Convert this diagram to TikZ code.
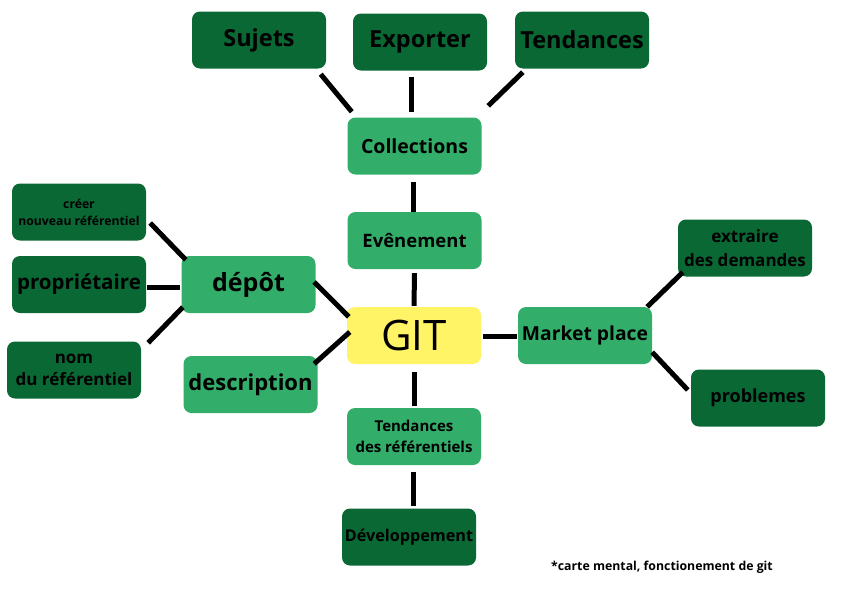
\documentclass[tikz,border=0pt]{standalone}
\usepackage{fontspec}
\setmainfont{Open Sans}
\usepackage{tikz}

\definecolor{darkleaf}{HTML}{0A6834}
\definecolor{lightleaf}{HTML}{33AE6A}
\definecolor{gityellow}{HTML}{FFF465}

\newcommand{\fsz}[2]{\fontsize{#1}{#2}\selectfont}

\begin{document}
\begin{tikzpicture}[x=1pt,y=-1pt,
    box/.style={rounded corners=8pt,minimum width=134pt,minimum height=57pt,
      inner sep=0pt,align=center,font=\bfseries},
    outer/.style={box,fill=darkleaf},
    inner/.style={box,fill=lightleaf},
    link/.style={line width=5pt}]
        \useasboundingbox (0,0) rectangle (842,595);
        \node[box,fill=gityellow,font=\fsz{42}{42}] (git) at (414,335.5) {GIT};
        \node[inner,font=\bfseries\fsz{19.5}{19.5}] (collections) at (414.5,146) {Collections};
        \node[inner,font=\bfseries\fsz{18.5}{18.5}] (evenement)   at (414.5,240.5) {Evênement};
        \node[inner,font=\bfseries\fsz{15}{21}] (tendref)     at (414,436.5) {Tendances\\des référentiels};
        \node[inner,font=\bfseries\fsz{25}{25}] (depot)       at (248.5,284.5) {dépôt};
        \node[inner,font=\bfseries\fsz{22}{22}] (description) at (250.5,384.5) {description};
        \node[inner,font=\bfseries\fsz{19.3}{19.3}] (market)  at (585,335.5) {Market place};
        \node[outer,font=\bfseries\fsz{23.5}{23.5}] (sujets)  at (259,40) {Sujets};
        \node[outer,font=\bfseries\fsz{23.5}{23.5}] (exporter) at (420,42) {Exporter};
        \node[outer,font=\bfseries\fsz{23.5}{23.5}] (tendances) at (582,40) {Tendances};
        \node[outer,font=\bfseries\fsz{16.2}{16.2}] (dev)     at (409,537) {Développement};
        \node[outer,font=\bfseries\fsz{12.2}{17}] (creer)     at (79,212) {créer\\nouveau référentiel};
        \node[outer,font=\bfseries\fsz{20.5}{20.5}] (proprio) at (79,284.5) {propriétaire};
        \node[outer,font=\bfseries\fsz{17}{22}] (nom)         at (74,370) {nom\\du référentiel};
        \node[outer,font=\bfseries\fsz{17}{24}] (extraire)    at (745,248) {extraire\\des demandes};
        \node[outer,font=\bfseries\fsz{18}{18}] (problemes)   at (758,398) {problemes};
        \node[font=\bfseries\fsz{12.3}{12.3}] (note) at (662,567) {*carte mental, fonctionement de git};
        %% branches, left open at both ends
        \draw[link] ([shift={(-5.5,5.5)}]sujets.south east) -- ([shift={(4.5,-5.5)}]collections.north west);
        \draw[link] ([shift={(-9,6.5)}]exporter.south) -- ([shift={(-3.5,-5.5)}]collections.north);
        \draw[link] ([shift={(8,3.5)}]tendances.south west) -- ([shift={(6.5,-11.5)}]collections.north east);
        \draw[link] ([shift={(-1.5,7.5)}]collections.south) -- ([shift={(-1.5,0)}]evenement.north);
        \draw[link] ([shift={(0,4)}]evenement.south) -- ([shift={(0,-1)}]git.north);
        \draw[link] ([shift={(0,8)}]git.south) -- ([shift={(0,-2)}]tendref.north);
        \draw[link] ([shift={(-1,7)}]tendref.south) -- ([shift={(4,-2.5)}]dev.north);
        \draw[link] ([shift={(2,0.5)}]git.east) -- ([shift={(-1,0.5)}]market.west);
        \draw[link] ([shift={(-5,0)}]market.north east) -- ([shift={(5,-4.5)}]extraire.south west);
        \draw[link] ([shift={(0,-12)}]market.south east) -- ([shift={(-3,-8)}]problemes.west);
        \draw[link] ([shift={(-1.5,-2.5)}]depot.east) -- ([shift={(2,10)}]git.north west);
        \draw[link] ([shift={(-3.5,8)}]description.north east) -- ([shift={(3,-3.5)}]git.west);
        \draw[link] ([shift={(4,11)}]creer.east) -- ([shift={(4.5,4)}]depot.north west);
        \draw[link] ([shift={(1,2.5)}]proprio.east) -- ([shift={(-1.5,2.5)}]depot.west);
        \draw[link] ([shift={(7,1.5)}]nom.north east) -- ([shift={(1.5,-6)}]depot.south west);
      \end{tikzpicture}
\end{document}
